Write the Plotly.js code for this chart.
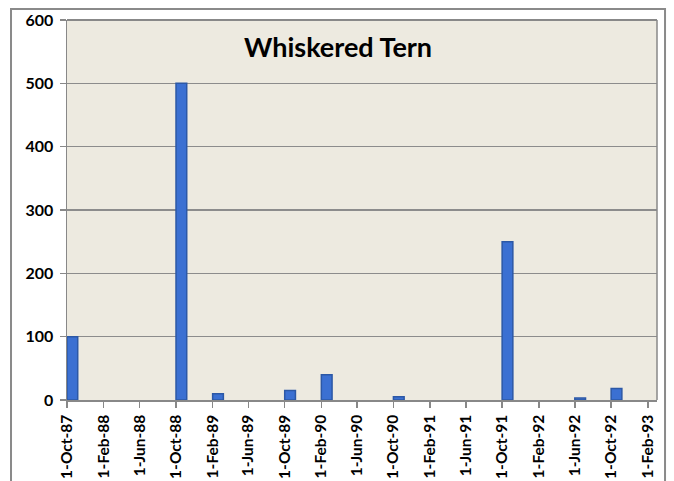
<!DOCTYPE html>
<html>
<head>
<meta charset="utf-8">
<script src="https://cdn.plot.ly/plotly-3.0.1.min.js"></script>
<style>html,body{margin:0;padding:0;background:#fff;}#chart{width:674px;height:481px;}</style>
</head>
<body>
<div id="chart"></div>
<script>
var dates = ['1987-10-01','1988-10-01','1989-02-01','1989-10-01','1990-02-01','1990-10-01','1991-10-01','1992-06-01','1992-10-01'];
var counts = [100, 500, 10, 15, 40, 5, 250, 3, 18];
var tickDates = ['1987-10-01','1988-02-01','1988-06-01','1988-10-01','1989-02-01','1989-06-01','1989-10-01','1990-02-01','1990-06-01','1990-10-01','1991-02-01','1991-06-01','1991-10-01','1992-02-01','1992-06-01','1992-10-01','1993-02-01'];
var tickLabels = ['1-Oct-87','1-Feb-88','1-Jun-88','1-Oct-88','1-Feb-89','1-Jun-89','1-Oct-89','1-Feb-90','1-Jun-90','1-Oct-90','1-Feb-91','1-Jun-91','1-Oct-91','1-Feb-92','1-Jun-92','1-Oct-92','1-Feb-93'];
var yTicks = [0,100,200,300,400,500,600];

var DAY = 86400000;
var trace = {
  type: 'bar',
  x: dates,
  y: counts,
  width: dates.map(function(){return 36*DAY;}),
  offset: dates.map(function(){return 0;}),
  marker: {color: '#3b70d2', line: {color: '#2c58a6', width: 1.5}},
  hoverinfo: 'x+y'
};
var fam = 'Lato, "Open Sans", sans-serif';
var layout = {
  width: 674, height: 481,
  margin: {l: 67, r: 17, t: 20, b: 81},
  paper_bgcolor: '#ffffff',
  plot_bgcolor: '#edeae0',
  showlegend: false,
  bargap: 0,
  font: {family: fam, size: 15, color: '#000'},
  xaxis: {
    type: 'date',
    range: ['1987-10-01', '1993-03-04'],
    tickvals: tickDates,
    ticktext: tickLabels,
    tickangle: -90,
    ticks: 'outside', ticklen: 6, tickcolor: '#888', tickwidth: 1.5,
    ticklabelstandoff: 1,
    showgrid: false,
    showline: true, linecolor: '#888', linewidth: 1.5,
    tickfont: {family: fam, size: 15.5, color: '#000', weight: 'bold'},
    fixedrange: true
  },
  yaxis: {
    range: [0, 600],
    tickvals: yTicks,
    ticks: 'outside', ticklen: 6, tickcolor: '#888', tickwidth: 1.5,
    ticklabelstandoff: 3,
    showgrid: true, gridcolor: '#8c8c8c', gridwidth: 1.3,
    zeroline: false,
    showline: true, linecolor: '#888', linewidth: 1.5,
    tickfont: {family: fam, size: 16, color: '#000', weight: 'bold'},
    fixedrange: true
  },
  shapes: [
    {type: 'line', xref: 'paper', yref: 'paper', x0: 1, x1: 1, y0: 0, y1: 1, line: {color: '#888', width: 1.5}},
    {type: 'line', xref: 'paper', yref: 'paper', x0: 0, x1: 1, y0: 1, y1: 1, line: {color: '#888', width: 2}},
    {type: 'rect', xref: 'paper', yref: 'paper', x0: -0.0949, x1: 1.0136, y0: -0.25, y1: 1.029, line: {color: '#8a8a8a', width: 2}, fillcolor: 'rgba(0,0,0,0)'}
  ],
  annotations: [
    {text: '<b>Whiskered Tern</b>', xref: 'paper', yref: 'paper', x: 0.459, y: 0.929, xanchor: 'center', yanchor: 'middle', showarrow: false,
     font: {family: fam, size: 27, color: '#000'}}
  ]
};
Plotly.newPlot('chart', [trace], layout, {displayModeBar: false, staticPlot: true});
</script>
</body>
</html>
